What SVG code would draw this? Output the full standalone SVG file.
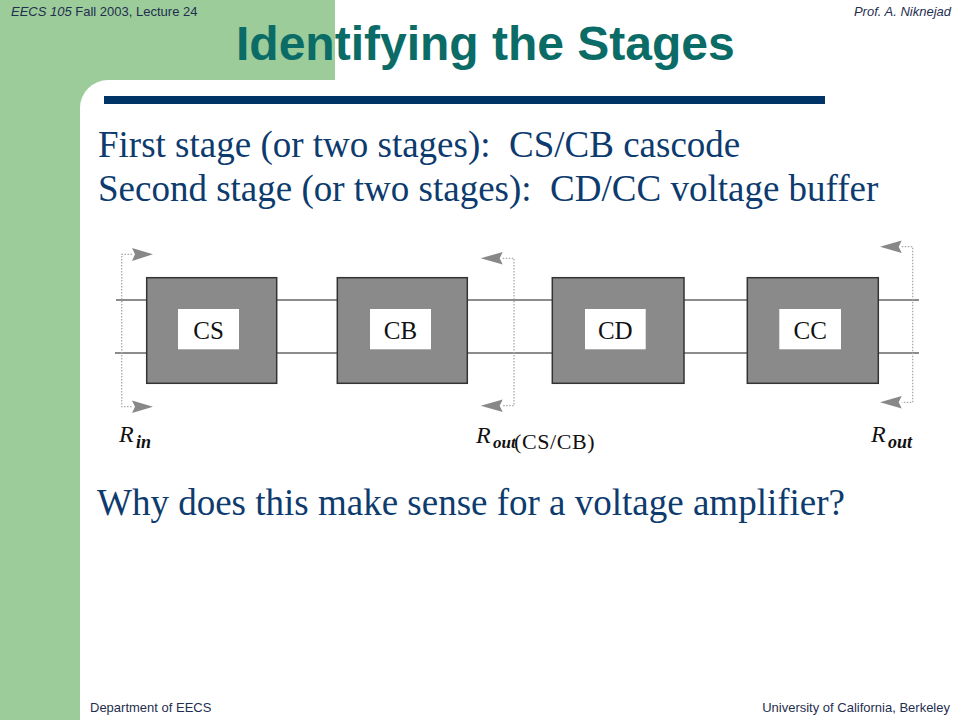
<svg xmlns="http://www.w3.org/2000/svg" width="960" height="720" viewBox="0 0 960 720">
<style>
.hdr{font-family:"Liberation Sans",Arial,sans-serif;font-size:13px;fill:#1f2f4f}
.title{font-family:"Liberation Sans",Arial,sans-serif;font-size:48px;font-weight:bold;fill:#0b6b66}
.body{font-family:"Liberation Serif","Times New Roman",serif;font-size:37px;fill:#0d3b6e}
.blk{fill:#8a8a8a;stroke:#333;stroke-width:1.5}
.win{fill:#fff}
.lbl{font-family:"Liberation Serif","Times New Roman",serif;font-size:25px;fill:#111;text-anchor:middle}
.wire{stroke:#666;stroke-width:1.6;fill:none}
.brk{stroke:#aaa;stroke-width:1.3;stroke-dasharray:1.5 1.5;fill:none}
.ah{fill:#888}
.rm{font-family:"Liberation Serif","Times New Roman",serif;fill:#111}
</style>
<rect x="0" y="0" width="960" height="720" fill="#9ccc99"/>
<path d="M335,0 H960 V720 H80 V108 A28 28 0 0 1 108 80 H335 Z" fill="#fff"/>
<rect x="104" y="96" width="721" height="8" fill="#003366"/>
<text class="hdr" x="11" y="16"><tspan font-style="italic">EECS 105</tspan> Fall 2003, Lecture 24</text>
<text class="hdr" x="951" y="16" font-style="italic" text-anchor="end">Prof. A. Niknejad</text>
<text class="title" x="236" y="60">Identifying the Stages</text>
<text class="body" x="98" y="157" xml:space="preserve">First stage (or two stages):  CS/CB cascode</text>
<text class="body" x="98" y="201" xml:space="preserve">Second stage (or two stages):  CD/CC voltage buffer</text>
<g id="connectors">
<line class="wire" x1="116" y1="300" x2="919" y2="300"/>
<line class="wire" x1="115" y1="353" x2="919" y2="353"/>
<path class="brk" d="M132,254.3 H121.7 V406.7 H132"/>
<path class="ah" d="M153,254.3 L132,248 L135,254.3 L132,261 Z"/>
<path class="ah" d="M153,406.7 L132,400.4 L135,406.7 L132,413 Z"/>
<path class="brk" d="M502.7,258.3 H514 V405.7 H502.7"/>
<path class="ah" d="M480.7,258.3 L502.7,252 L499.7,258.3 L502.7,264.6 Z"/>
<path class="ah" d="M480.7,405.7 L502.7,399.4 L499.7,405.7 L502.7,412 Z"/>
<path class="brk" d="M901.7,246.7 H912.7 V402.3 H901.7"/>
<path class="ah" d="M880,246.7 L901.7,240.4 L898.7,246.7 L901.7,253 Z"/>
<path class="ah" d="M880,402.3 L901.7,396 L898.7,402.3 L901.7,408.6 Z"/>
</g>
<g id="cs">
<rect class="blk" x="146.7" y="277.7" width="130" height="105.6"/>
<rect class="win" x="178" y="309" width="61" height="40.3"/>
<text class="lbl" x="208.5" y="339">CS</text>
</g>
<g id="cb">
<rect class="blk" x="337.3" y="277.7" width="130" height="105.6"/>
<rect class="win" x="370" y="309" width="61" height="40.3"/>
<text class="lbl" x="400.5" y="339">CB</text>
</g>
<g id="cd">
<rect class="blk" x="552.3" y="277.7" width="131.7" height="105.6"/>
<rect class="win" x="585" y="309" width="60.7" height="40.3"/>
<text class="lbl" x="615.3" y="339">CD</text>
</g>
<g id="cc">
<rect class="blk" x="747.3" y="277.7" width="131" height="105.6"/>
<rect class="win" x="779.3" y="309" width="61.7" height="40.3"/>
<text class="lbl" x="810.2" y="339">CC</text>
</g>
<text class="rm" x="119" y="442" font-size="24" font-style="italic">R</text>
<text class="rm" x="136" y="448" font-size="18" font-style="italic" font-weight="bold">in</text>
<text class="rm" x="476" y="443" font-size="24" font-style="italic">R</text>
<text class="rm" x="493" y="448" font-size="17" font-style="italic" font-weight="bold">out</text>
<text class="rm" x="514" y="449" font-size="22" letter-spacing="0.6">(CS/CB)</text>
<text class="rm" x="871" y="442" font-size="24" font-style="italic">R</text>
<text class="rm" x="888" y="448" font-size="18" font-style="italic" font-weight="bold">out</text>
<text class="body" x="97" y="515">Why does this make sense for a voltage amplifier?</text>
<text class="hdr" x="90" y="712">Department of EECS</text>
<text class="hdr" x="950" y="712" text-anchor="end">University of California, Berkeley</text>
</svg>
